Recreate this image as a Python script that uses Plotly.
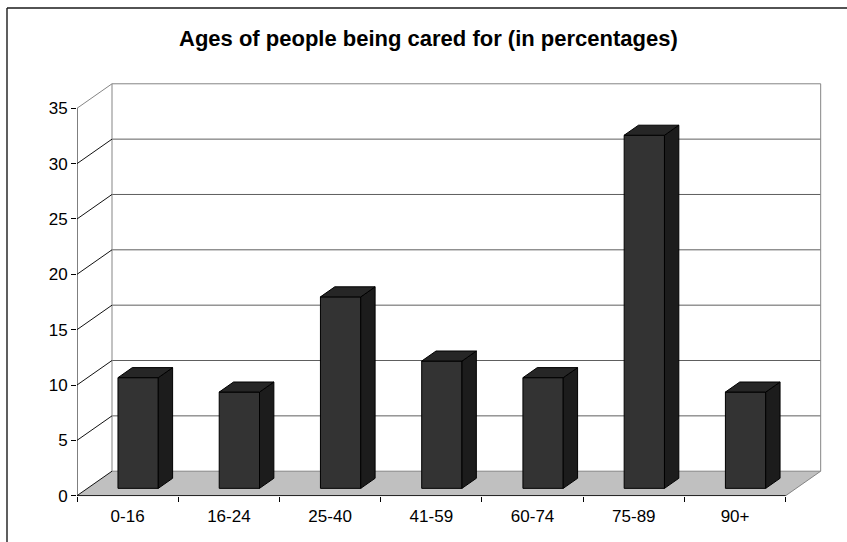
import plotly.graph_objects as go

# ---- data ----
categories = ["0-16", "16-24", "25-40", "41-59", "60-74", "75-89", "90+"]
percentages = [10.0, 8.7, 17.3, 11.5, 10.0, 31.9, 8.7]
y_ticks = [0, 5, 10, 15, 20, 25, 30, 35]
title_text = "Ages of people being cared for (in percentages)"

# ---- layout constants ----
W, H = 847, 542
FONT = "Liberation Sans, Arial, sans-serif"

X_LEFT_PX = 77.0        # pixel of x = -0.5 (front plane)
Y_ZERO_PX = 495.7       # pixel of y = 0 (front plane)
PX_PER_CAT = 101.24
PX_PER_UNIT = 11.069

DX = 35.0 / PX_PER_CAT      # depth offset of the box along x (category units)
DY = 24.5 / PX_PER_UNIT     # depth offset of the box along y (value units)
Y_MAX = 35

BAR_W = 0.398      # bar width (category units)
BAR_FRONT = 0.30   # fraction of box depth where bar front face sits
BAR_DEPTH = 0.41   # bar depth as a fraction of box depth

n = len(categories)
xs = list(range(n))

x_lo, x_hi = -0.5, n - 0.5 + DX + 0.04
y_lo, y_hi = -0.06, Y_MAX + DY + 0.08

x_dom = [(X_LEFT_PX + (x_lo + 0.5) * PX_PER_CAT) / W,
         (X_LEFT_PX + (x_hi + 0.5) * PX_PER_CAT) / W]
y_dom = [1 - (Y_ZERO_PX - y_lo * PX_PER_UNIT) / H,
         1 - (Y_ZERO_PX - y_hi * PX_PER_UNIT) / H]

GRID = "#5e5e5e"
EDGE = "#858585"
FRONT_C = "#333333"
TOP_C = "#262626"
SIDE_C = "#1c1c1c"

shapes = []


def seg(x0, y0, x1, y1, color, width=1.0):
    shapes.append(dict(type="line", xref="x", yref="y", x0=x0, y0=y0, x1=x1, y1=y1,
                       line=dict(color=color, width=width), layer="below"))


# floor
fx0, fx1 = -0.5, n - 0.5
shapes.append(dict(
    type="path", xref="x", yref="y", layer="below",
    path=f"M {fx0},0 L {fx1},0 L {fx1 + DX},{DY} L {fx0 + DX},{DY} Z",
    fillcolor="#c0c0c0", line=dict(width=0)))

# back wall gridlines and edges
for v in y_ticks[1:-1]:
    seg(fx0 + DX, v + DY, fx1 + DX, v + DY, GRID)
seg(fx0 + DX, Y_MAX + DY, fx1 + DX, Y_MAX + DY, EDGE)
seg(fx0 + DX, DY, fx1 + DX, DY, EDGE)
seg(fx0 + DX, DY, fx0 + DX, Y_MAX + DY, EDGE)
seg(fx1 + DX, DY, fx1 + DX, Y_MAX + DY, EDGE)
seg(fx1, 0, fx1 + DX, DY, EDGE)

# side wall diagonals
for v in y_ticks:
    seg(fx0, v, fx0 + DX, v + DY, EDGE if v == Y_MAX else "#111111")

# front axis lines
seg(fx0, 0, fx0, Y_MAX, "#000000")
seg(fx0, 0, fx1, 0, "#000000")

# outer chart frame
shapes.append(dict(type="line", xref="paper", yref="paper",
                   x0=7 / W, y0=1 - 8 / H, x1=7 / W, y1=-0.2,
                   line=dict(color="#1a1a1a", width=1.4)))
shapes.append(dict(type="line", xref="paper", yref="paper",
                   x0=7 / W, y0=1 - 8 / H, x1=1.2, y1=1 - 8 / H,
                   line=dict(color="#1a1a1a", width=1.4)))

fig = go.Figure()

# bar front faces
base = BAR_FRONT * DY
fig.add_trace(go.Bar(
    x=[i + BAR_FRONT * DX for i in xs], y=percentages, base=[base] * n,
    width=BAR_W, marker=dict(color=FRONT_C, line=dict(color="#000000", width=1)),
    hoverinfo="skip", showlegend=False))

# bar side and top faces
bdx, bdy = BAR_DEPTH * DX, BAR_DEPTH * DY
for i, v in zip(xs, percentages):
    xl = i + BAR_FRONT * DX - BAR_W / 2
    xr = i + BAR_FRONT * DX + BAR_W / 2
    top = base + v
    fig.add_trace(go.Scatter(
        x=[xr, xr + bdx, xr + bdx, xr, xr],
        y=[base, base + bdy, top + bdy, top, base],
        mode="lines", fill="toself", fillcolor=SIDE_C,
        line=dict(color="#000000", width=1), hoverinfo="skip", showlegend=False))
    fig.add_trace(go.Scatter(
        x=[xl, xr, xr + bdx, xl + bdx, xl],
        y=[top, top, top + bdy, top + bdy, top],
        mode="lines", fill="toself", fillcolor=TOP_C,
        line=dict(color="#000000", width=1), hoverinfo="skip", showlegend=False))

fig.update_layout(
    width=W, height=H,
    margin=dict(l=0, r=0, t=0, b=0),
    paper_bgcolor="white", plot_bgcolor="rgba(0,0,0,0)",
    showlegend=False,
    shapes=shapes,
    font=dict(family=FONT, color="#000000", size=17),
    annotations=[dict(
        text=f"<b>{title_text}</b>", xref="paper", yref="paper",
        x=429 / W, y=1 - 38.5 / H, xanchor="center", yanchor="middle",
        showarrow=False, font=dict(family=FONT, size=22, color="#000000"))],
    xaxis=dict(
        range=[x_lo, x_hi], domain=x_dom, automargin=False,
        tickmode="array", tickvals=xs, ticktext=categories,
        ticks="outside", ticklen=4, tickcolor="rgba(0,0,0,0)",
        tickfont=dict(family=FONT, size=17, color="#000000"),
        showgrid=False, zeroline=False, showline=False, fixedrange=True,
        minor=dict(tickmode="array", tickvals=[i - 0.5 for i in range(n + 1)],
                   ticks="outside", ticklen=5, tickcolor="#000000", tickwidth=1,
                   showgrid=False),
    ),
    yaxis=dict(
        range=[y_lo, y_hi], domain=y_dom, automargin=False,
        tickmode="array", tickvals=y_ticks,
        ticks="outside", ticklen=5, tickcolor="#000000", tickwidth=1,
        tickfont=dict(family=FONT, size=17, color="#000000"),
        showgrid=False, zeroline=False, showline=False, fixedrange=True,
    ),
)

fig.write_html("out.html")
